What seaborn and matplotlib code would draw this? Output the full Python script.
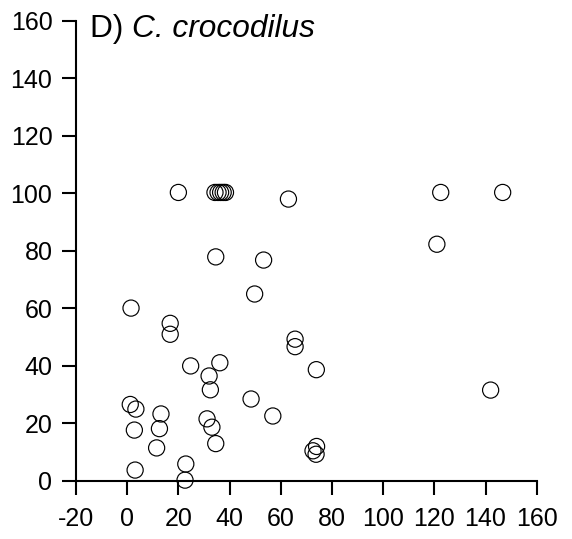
import matplotlib
matplotlib.use("Agg")
import matplotlib.pyplot as plt
import seaborn as sns
import pandas as pd

x_vals = [20.0, 34.3, 35.5, 36.5, 37.5, 38.4, 63.0, 122.5, 146.7, 121.0,
          34.6, 53.3, 49.8, 1.5, 16.8, 16.8, 65.6, 65.6, 24.8, 36.2,
          73.9, 32.0, 32.5, 142.0, 48.4, 1.2, 3.4, 13.2, 56.9, 31.2,
          2.8, 12.6, 33.1, 34.6, 11.5, 74.0, 72.6, 73.8, 22.9, 3.1, 22.6]
y_vals = [100.3, 100.3, 100.3, 100.3, 100.3, 100.3, 98.0, 100.3, 100.3, 82.3,
          77.9, 76.8, 65.0, 60.1, 54.8, 51.0, 49.3, 46.7, 40.0, 41.1,
          38.7, 36.5, 31.7, 31.6, 28.5, 26.6, 25.0, 23.3, 22.6, 21.6,
          17.7, 18.2, 18.7, 13.0, 11.5, 12.0, 10.5, 9.3, 5.9, 3.8, 0.3]
x_ticks = [-20, 0, 20, 40, 60, 80, 100, 120, 140, 160]
y_ticks = [0, 20, 40, 60, 80, 100, 120, 140, 160]

df = pd.DataFrame({"x": x_vals, "y": y_vals})

sns.set_style("ticks")
plt.rcParams["font.family"] = ["Liberation Sans", "DejaVu Sans"]
plt.rcParams["text.color"] = "black"

fig = plt.figure(figsize=(5.72, 5.39), dpi=100)
ax = fig.add_axes([76 / 572, 1 - 481 / 539, (536.7 - 76) / 572, (481 - 20.7) / 539])

sns.scatterplot(data=df, x="x", y="y", ax=ax, s=135, marker="o",
                facecolors="none", edgecolor="black", linewidth=0.85,
                clip_on=False, zorder=3)

ax.set_xlim(-20, 160)
ax.set_ylim(0, 160)
ax.set_xticks(x_ticks)
ax.set_yticks(y_ticks)
ax.set_xticklabels([str(t) for t in x_ticks])
ax.set_yticklabels([str(t) for t in y_ticks])
ax.set_xlabel("")
ax.set_ylabel("")
for side in ["top", "right"]:
    ax.spines[side].set_visible(False)
for side in ["left", "bottom"]:
    ax.spines[side].set_linewidth(1.5)
    ax.spines[side].set_color("black")
ax.tick_params(axis="both", direction="out", length=10, width=1.5,
               labelsize=18, colors="black")
ax.tick_params(axis="x", pad=9)
ax.tick_params(axis="y", pad=7)

title_y = 1 - 36.7 / 539
d = fig.text(90 / 572, title_y, "D) ", fontsize=22.8, ha="left",
             va="baseline", color="black")
renderer = fig.canvas.get_renderer()
bb = d.get_window_extent(renderer=renderer)
fig.text(bb.x1 / fig.bbox.width, title_y, "C. crocodilus",
         fontsize=22.8, style="italic", ha="left", va="baseline", color="black")

fig.savefig("out.png", dpi=100)
